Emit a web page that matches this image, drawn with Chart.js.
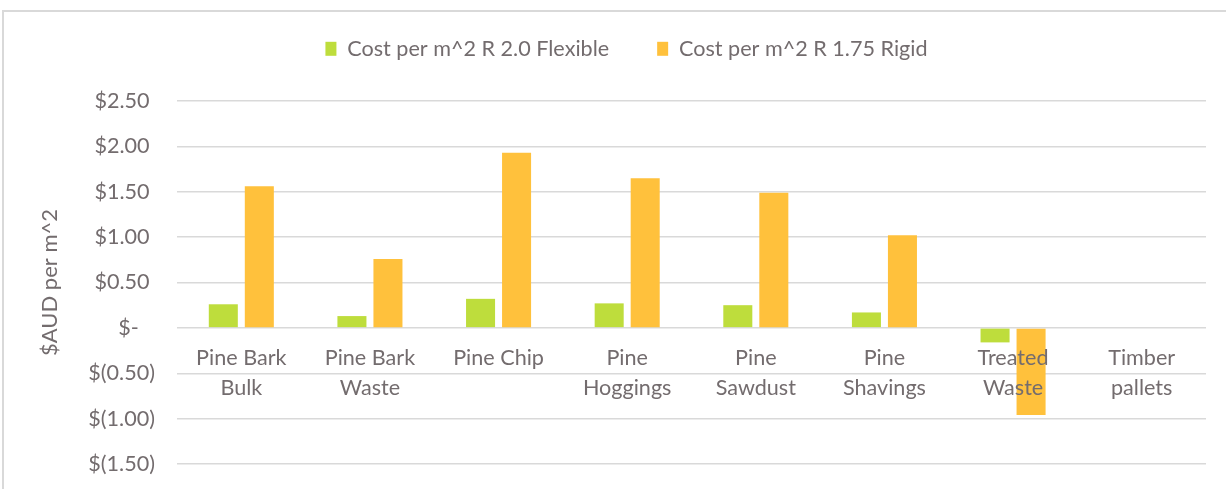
<!DOCTYPE html>
<html>
<head>
<meta charset="utf-8">
<script src="https://cdn.jsdelivr.net/npm/chart.js@4"></script>
<style>
  html, body { margin: 0; padding: 0; background: #fff; overflow: hidden; width: 1226px; height: 489px; }
  #frame { position: absolute; left: 2px; top: 10px; width: 1300px; height: 600px; border: 2px solid #d9d9d9; box-sizing: border-box; }
  #wrap { position: absolute; left: 0; top: 0; width: 1226px; height: 489px; }
</style>
</head>
<body>
<div id="frame"></div>
<div id="wrap"><canvas id="c" width="1226" height="489"></canvas></div>
<script>
// Categories (multi-line labels) and the two cost series
const categories = [
  ['Pine Bark', 'Bulk'],
  ['Pine Bark', 'Waste'],
  'Pine Chip',
  ['Pine', 'Hoggings'],
  ['Pine', 'Sawdust'],
  ['Pine', 'Shavings'],
  ['Treated', 'Waste'],
  ['Timber', 'pallets']
];
const seriesNames = ['Cost per m^2 R 2.0 Flexible', 'Cost per m^2 R 1.75 Rigid'];
const flexibleCost = [0.26, 0.13, 0.32, 0.27, 0.25, 0.17, -0.16, 0];
const rigidCost = [1.56, 0.76, 1.93, 1.65, 1.49, 1.02, -0.96, 0];
const yTickValues = [-1.5, -1, -0.5, 0, 0.5, 1, 1.5, 2, 2.5];
const yTickLabels = ['$(1.50)', '$(1.00)', '$(0.50)', '$-', '$0.50', '$1.00', '$1.50', '$2.00', '$2.50'];
const yTitle = '$AUD per m^2';

const TEXT = '#736c6e';
const GREEN = '#bedd3c';
const ORANGE = '#ffc13c';
const FS = 21.6;

Chart.defaults.font.family = 'Lato, "Open Sans", sans-serif';

// Accounting-style alignment: positives leave room for ")" and "$-" sits further left
function padLabel(s) {
  if (s.endsWith(')')) return s;
  if (s === '$-') return s + '\u2002\u2005';
  return s + '\u2005';
}

const layoutTweak = {
  id: 'layoutTweak',
  beforeLayout(chart) {
    const lg = chart.legend;
    if (lg && !lg._fixedFit) {
      const fit = lg.fit;
      lg.fit = function () { fit.call(this); this.height = 101; };
      lg._fixedFit = true;
    }
  },
  afterLayout(chart) {
    const lg = chart.legend;
    lg.top -= 10; lg.bottom -= 10;
    lg.left += 7; lg.right += 7;
  }
};

new Chart(document.getElementById('c'), {
  type: 'bar',
  data: {
    labels: categories,
    datasets: [
      { label: seriesNames[0], data: flexibleCost, backgroundColor: GREEN },
      { label: seriesNames[1], data: rigidCost, backgroundColor: ORANGE }
    ]
  },
  options: {
    responsive: false,
    animation: false,
    devicePixelRatio: 1,
    categoryPercentage: 0.56,
    barPercentage: 0.806,
    layout: { padding: { left: 33, right: 20, top: 0, bottom: 25 } },
    plugins: {
      legend: {
        position: 'top',
        labels: { boxWidth: 11, boxHeight: 14, padding: 48, color: TEXT, font: { size: FS } }
      },
      tooltip: { enabled: false }
    },
    scales: {
      x: {
        position: { y: 0 },
        grid: { display: false, drawTicks: false },
        border: { display: false },
        ticks: {
          z: 1,
          color: TEXT,
          font: { size: FS, lineHeight: '30px' },
          padding: 15,
          maxRotation: 0,
          autoSkip: false
        }
      },
      y: {
        min: -1.5,
        max: 2.5,
        afterBuildTicks: (s) => { s.ticks = yTickValues.map(v => ({ value: v })); },
        afterFit: (s) => { s.width = 144; s.paddingTop = 10; s.paddingBottom = 10; },
        grid: { color: '#d9d9d9', lineWidth: 1.5, drawTicks: false },
        border: { display: false },
        ticks: {
          color: TEXT,
          font: { size: FS },
          padding: 22,
          callback: (v, i) => padLabel(yTickLabels[i])
        },
        title: {
          display: true,
          text: yTitle,
          color: TEXT,
          font: { size: 22 },
          padding: { top: 4, bottom: 4 }
        }
      }
    }
  },
  plugins: [layoutTweak]
});
</script>
</body>
</html>
